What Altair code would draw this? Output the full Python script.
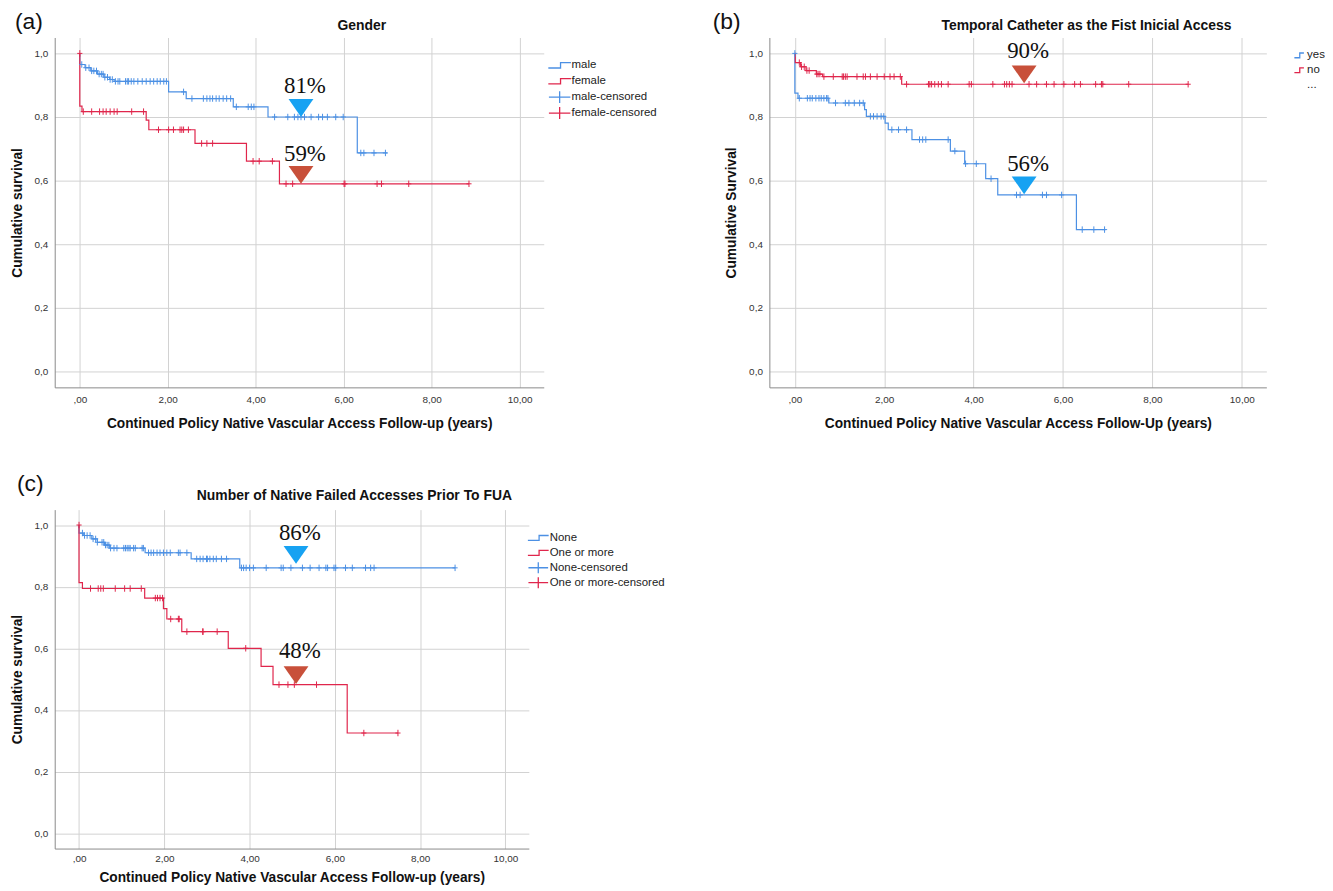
import altair as alt
import pandas as pd

# ---------------- data ----------------
# Panel (a) Gender
A_MALE_T = [0, 0, 0.12, 0.25, 0.40, 0.55, 0.68, 0.78, 2.02, 2.42, 3.49, 4.28, 6.31, 6.99]
A_MALE_S = [1.0, 0.965, 0.955, 0.945, 0.935, 0.925, 0.918, 0.912, 0.879, 0.858, 0.832, 0.80, 0.687, 0.687]
A_MALE_CENS = [0.045, 0.136, 0.21, 0.27, 0.32, 0.38, 0.44, 0.49, 0.53, 0.57, 0.63, 0.69, 0.74, 0.81, 0.87,
               0.91, 1.04, 1.08, 1.11, 1.17, 1.23, 1.32, 1.42, 1.51, 1.60, 1.68, 1.76, 1.83, 1.91, 1.97,
               2.36, 2.55, 2.81, 2.89, 2.96, 3.02, 3.10, 3.17, 3.26, 3.34, 3.43, 3.56, 3.83, 3.90, 3.96,
               4.43, 4.73, 4.88, 4.96, 5.03, 5.11, 5.26, 5.43, 5.52, 5.63, 5.82, 5.99, 6.39, 6.46, 6.69, 6.95]
A_FEMALE_T = [0, 0, 0.05, 1.51, 1.57, 2.62, 3.79, 4.54, 8.85]
A_FEMALE_S = [1.0, 0.834, 0.817, 0.79, 0.76, 0.717, 0.661, 0.59, 0.59]
A_FEMALE_CENS = [0, 0.08, 0.27, 0.45, 0.53, 0.60, 0.69, 0.78, 0.85, 1.18, 1.45, 1.79, 2.02, 2.13, 2.28,
                 2.32, 2.36, 2.47, 2.77, 2.89, 3.02, 3.94, 4.08, 4.38, 4.69, 4.84, 6.01, 6.03, 6.76,
                 6.86, 7.48, 8.85]
A_MARK_T = [5.03, 5.03]
A_MARK_S = [0.80, 0.59]
A_LABEL_T = [5.12, 5.12]
A_LABEL_S = [0.897, 0.683]
A_LABELS = ["81%", "59%"]

# Panel (b) Temporal catheter
B_YES_T = [0, 0, 0.07, 0.76, 1.56, 1.60, 2.02, 2.09, 2.62, 3.48, 3.80, 4.27, 4.54, 6.30, 6.95]
B_YES_S = [1.0, 0.875, 0.859, 0.844, 0.823, 0.802, 0.781, 0.760, 0.729, 0.693, 0.653, 0.606, 0.555, 0.446, 0.446]
B_YES_CENS = [0, 0.10, 0.28, 0.34, 0.39, 0.47, 0.54, 0.59, 0.65, 0.71, 0.74, 0.91, 1.13, 1.21, 1.33, 1.45,
              1.53, 1.69, 1.76, 1.84, 1.93, 1.99, 2.17, 2.32, 2.50, 2.79, 2.86, 2.93, 3.43, 3.58, 3.82,
              4.06, 4.39, 4.96, 5.04, 5.54, 5.63, 5.97, 6.43, 6.69, 6.93]
B_NO_T = [0, 0.01, 0.13, 0.25, 0.48, 0.62, 2.39, 8.80]
B_NO_S = [1.0, 0.971, 0.958, 0.946, 0.935, 0.927, 0.903, 0.903]
B_NO_CENS = [0.10, 0.15, 0.21, 0.27, 0.32, 0.49, 0.52, 0.56, 0.65, 0.86, 1.06, 1.09, 1.13, 1.17, 1.39,
             1.53, 1.58, 1.69, 1.84, 2.00, 2.13, 2.22, 2.36, 2.50, 2.99, 3.02, 3.06, 3.13, 3.21, 3.28,
             3.43, 3.90, 3.95, 4.43, 4.69, 4.74, 4.80, 4.86, 5.24, 5.41, 5.63, 5.80, 6.02, 6.26, 6.39,
             6.73, 6.86, 6.89, 7.47, 8.80]
B_MARK_T = [5.13, 5.13]
B_MARK_S = [0.906, 0.557]
B_LABEL_T = [5.22, 5.22]
B_LABEL_S = [1.008, 0.651]
B_LABELS = ["90%", "56%"]

# Panel (c) Number of native failed accesses
C_NONE_T = [0, 0, 0.10, 0.30, 0.43, 0.60, 0.72, 1.55, 2.63, 3.77, 8.82]
C_NONE_S = [1.0, 0.974, 0.966, 0.955, 0.944, 0.935, 0.925, 0.910, 0.890, 0.861, 0.861]
C_NONE_CENS = [0.08, 0.13, 0.19, 0.26, 0.33, 0.39, 0.43, 0.54, 0.58, 0.62, 0.66, 0.70, 0.74, 0.82, 0.89,
               1.05, 1.09, 1.13, 1.17, 1.20, 1.28, 1.32, 1.48, 1.51, 1.63, 1.69, 1.75, 1.83, 1.90, 1.98,
               2.06, 2.14, 2.33, 2.37, 2.53, 2.76, 2.84, 2.91, 2.99, 3.01, 3.07, 3.15, 3.22, 3.34, 3.46,
               3.81, 3.86, 3.92, 4.00, 4.09, 4.39, 4.74, 4.79, 4.97, 5.24, 5.42, 5.63, 5.79, 5.83, 5.98,
               6.02, 6.25, 6.41, 6.72, 6.84, 6.92, 8.82]
C_ONE_T = [0, 0, 0.08, 1.54, 1.98, 2.06, 2.41, 3.50, 4.27, 4.55, 6.29, 7.48]
C_ONE_S = [1.0, 0.813, 0.794, 0.763, 0.729, 0.695, 0.654, 0.600, 0.541, 0.482, 0.325, 0.325]
C_ONE_CENS = [0, 0.27, 0.45, 0.51, 0.57, 0.85, 1.07, 1.20, 1.46, 1.79, 1.84, 1.90, 1.96, 2.15, 2.33, 2.35,
              2.53, 2.90, 2.91, 3.24, 3.91, 4.69, 4.90, 5.05, 5.57, 6.68, 7.48]
C_MARK_T = [5.09, 5.09]
C_MARK_S = [0.874, 0.484]
C_LABEL_T = [5.18, 5.18]
C_LABEL_S = [0.974, 0.591]
C_LABELS = ["86%", "48%"]

X_TICKS = [0, 2, 4, 6, 8, 10]
Y_TICKS = [0, 0.2, 0.4, 0.6, 0.8, 1.0]

# ---------------- styling ----------------
BLUE = "#4C90E4"
RED = "#E0264C"
TRI_BLUE = "#17A2F2"
TRI_RED = "#C8503A"
FONT = "Liberation Sans"
SERIF = "Liberation Serif"

STEP_PATH = "M-1.9,0.45L0.15,0.45L0.15,-0.45L1.9,-0.45"
STEP_SMALL = "M-0.8,0.4L0.1,0.4L0.1,-0.4L0.8,-0.4"
CROSS_PATH = "M-1.8,0L1.8,0M0,-1L0,1"
EMPTY_PATH = "M0,0L0,0"
TICK_PATH = "M-0.8,0L0.8,0M0,-1L0,1"
TRI_PATH = "M-1,-1.44L1,-1.44L0,0Z"

X_DOMAIN = [-0.57, 10.55]
Y_DOMAIN = [-0.05, 1.05]


def level(T, S, t):
    v = S[0]
    for ti, si in zip(T, S):
        if ti < t or (ti == t and t > 0):
            v = si
    return v


def panel(tag, title, ytitle, xtitle, width, height, groups,
          marks, legend_domain, legend_colors, legend_shapes, legend_values,
          legend_x, legend_y, sym_size, row_pad, label_offset, tag_x, tag_y=-16, title_y=-12,
          title_dx=63, xlab_pad=7, xtitle_pad=12):
    line_rows, cens_rows = [], []
    for g in groups:
        for i, (t, s) in enumerate(zip(g["T"], g["S"])):
            line_rows.append({"t": t, "s": s, "series": g["name"], "i": i})
        for t in g["cens"]:
            cens_rows.append({"t": t, "s": level(g["T"], g["S"], t),
                              "series": g["name"] + "-censored"})
    lines_df = pd.DataFrame(line_rows)
    cens_df = pd.DataFrame(cens_rows)
    mt, ms, lt, ls, labs, cols = marks
    tri_df = pd.DataFrame({"t": mt, "s": ms, "c": cols})
    lab_df = pd.DataFrame({"t": lt, "s": ls, "label": labs})

    xs = alt.Scale(domain=X_DOMAIN, nice=False, zero=False)
    ys = alt.Scale(domain=Y_DOMAIN, nice=False, zero=False)
    xaxis = alt.Axis(values=X_TICKS, title=xtitle, grid=True, ticks=False,
                     labelExpr="datum.value == 0 ? ',00' : replace(format(datum.value, '.2f'), '.', ',')",
                     labelPadding=xlab_pad, titlePadding=xtitle_pad)
    yaxis = alt.Axis(values=Y_TICKS, title=ytitle, grid=True, ticks=False,
                     labelExpr="replace(format(datum.value, '.1f'), '.', ',')",
                     labelPadding=7, titlePadding=10)
    # legend scales (colour + shape) and a separate stroke scale for the drawn marks;
    # the stroke domain is listed in reverse so that its (hidden) legend is kept apart
    cscale = alt.Scale(domain=legend_domain, range=legend_colors)
    sscale = alt.Scale(domain=legend_domain, range=legend_shapes)
    stscale = alt.Scale(domain=legend_domain[::-1], range=legend_colors[::-1])
    leg = alt.Legend(title=None, orient="none", legendX=legend_x, legendY=legend_y,
                     values=legend_values, symbolSize=sym_size, symbolStrokeWidth=1.3,
                     symbolFillColor="transparent", labelFont=FONT, labelFontSize=11.5,
                     labelColor="#222", labelOffset=label_offset, rowPadding=row_pad,
                     padding=0, gridAlign="all")

    X = alt.X("t:Q", scale=xs, axis=xaxis)
    Y = alt.Y("s:Q", scale=ys, axis=yaxis)
    Xn = alt.X("t:Q", scale=xs)
    Yn = alt.Y("s:Q", scale=ys)

    lines = alt.Chart(lines_df).mark_line(interpolate="step-after", strokeWidth=1.2).encode(
        x=X, y=Y,
        stroke=alt.Stroke("series:N", scale=stscale, legend=None),
        order=alt.Order("i:Q"),
        detail="series:N",
    )
    cens = alt.Chart(cens_df).mark_point(shape=TICK_PATH, filled=False, strokeWidth=1, size=42,
                                         opacity=1).encode(
        x=Xn, y=Yn, stroke=alt.Stroke("series:N", scale=stscale, legend=None),
    )
    # carries the legend only (zero-size points)
    legend_layer = alt.Chart(cens_df).mark_point(filled=False, size=0, opacity=1).encode(
        x=Xn, y=Yn,
        color=alt.Color("series:N", scale=cscale, legend=leg),
        shape=alt.Shape("series:N", scale=sscale, legend=leg),
    )
    tri = alt.Chart(tri_df).mark_point(shape=TRI_PATH, filled=True, size=625, opacity=1,
                                       strokeWidth=0).encode(
        x=Xn, y=Yn, fill=alt.Fill("c:N", scale=None, legend=None),
    )
    txt = alt.Chart(lab_df).mark_text(font=SERIF, fontSize=23, color="#111",
                                      baseline="middle", align="center").encode(
        x=Xn, y=Yn, text="label:N",
    )
    ann = pd.DataFrame({"txt": [tag, title], "kind": ["tag", "title"]})
    tagc = alt.Chart(ann).transform_filter("datum.kind == 'tag'").mark_text(
        font=FONT, fontSize=23, align="left", baseline="middle", color="#111"
    ).encode(x=alt.value(tag_x), y=alt.value(tag_y), text="txt:N")
    titc = alt.Chart(ann).transform_filter("datum.kind == 'title'").mark_text(
        font=FONT, fontSize=14, fontWeight="bold", align="center", baseline="middle", color="#111"
    ).encode(x=alt.value(width / 2 + title_dx), y=alt.value(title_y), text="txt:N")

    return alt.layer(lines, cens, legend_layer, tri, txt, tagc, titc).properties(
        width=width, height=height)


pa = panel("(a)", "Gender", "Cumulative survival",
           "Continued Policy Native Vascular Access Follow-up (years)", 492, 352,
           [dict(name="male", T=A_MALE_T, S=A_MALE_S, cens=A_MALE_CENS),
            dict(name="female", T=A_FEMALE_T, S=A_FEMALE_S, cens=A_FEMALE_CENS)],
           (A_MARK_T, A_MARK_S, A_LABEL_T, A_LABEL_S, A_LABELS, [TRI_BLUE, TRI_RED]),
           ["male", "female", "male-censored", "female-censored"],
           [BLUE, RED, BLUE, RED], [STEP_PATH, STEP_PATH, CROSS_PATH, CROSS_PATH],
           ["male", "female", "male-censored", "female-censored"],
           501, 21, 144, -5.5, 5, tag_x=-40)

pb = panel("(b)", "Temporal Catheter as the Fist Inicial Access", "Cumulative Survival",
           "Continued Policy Native Vascular Access Follow-Up (years)", 500, 352,
           [dict(name="yes", T=B_YES_T, S=B_YES_S, cens=B_YES_CENS),
            dict(name="no", T=B_NO_T, S=B_NO_S, cens=B_NO_CENS)],
           (B_MARK_T, B_MARK_S, B_LABEL_T, B_LABEL_S, B_LABELS, [TRI_RED, TRI_BLUE]),
           ["yes", "no", "...", "yes-censored", "no-censored"],
           [BLUE, RED, "#999999", BLUE, RED],
           [STEP_SMALL, STEP_SMALL, EMPTY_PATH, CROSS_PATH, CROSS_PATH],
           ["yes", "no", "..."],
           526, 11, 144, 2, 1, tag_x=-57, title_dx=69)

pc = panel("(c)", "Number of Native Failed Accesses Prior To FUA", "Cumulative survival",
           "Continued Policy Native Vascular Access Follow-up (years)", 477, 341,
           [dict(name="None", T=C_NONE_T, S=C_NONE_S, cens=C_NONE_CENS),
            dict(name="One or more", T=C_ONE_T, S=C_ONE_S, cens=C_ONE_CENS)],
           (C_MARK_T, C_MARK_S, C_LABEL_T, C_LABEL_S, C_LABELS, [TRI_BLUE, TRI_RED]),
           ["None", "One or more", "None-censored", "One or more-censored"],
           [BLUE, RED, BLUE, RED], [STEP_PATH, STEP_PATH, CROSS_PATH, CROSS_PATH],
           ["None", "One or more", "None-censored", "One or more-censored"],
           480, 22, 121, -7, 5, tag_x=-38, tag_y=-26, title_y=-14, xlab_pad=5, xtitle_pad=7)

RES = dict(color="independent", shape="independent", stroke="independent")
top = alt.hconcat(pa, pb, spacing=56).resolve_scale(**RES)
chart = alt.vconcat(top, pc, spacing=43).resolve_scale(**RES).configure(
    font=FONT, padding={"left": 2, "top": 0, "right": 0, "bottom": 0}
).configure_view(stroke=None).configure_axis(
    domainColor="#8a8a8a", domainWidth=1, gridColor="#d2d2d2", gridWidth=1,
    labelFont=FONT, labelFontSize=10, labelColor="#333",
    titleFont=FONT, titleFontSize=13.8, titleFontWeight="bold", titleColor="#111",
)

chart.save("out.html", embed_options={"renderer": "svg", "actions": False})
